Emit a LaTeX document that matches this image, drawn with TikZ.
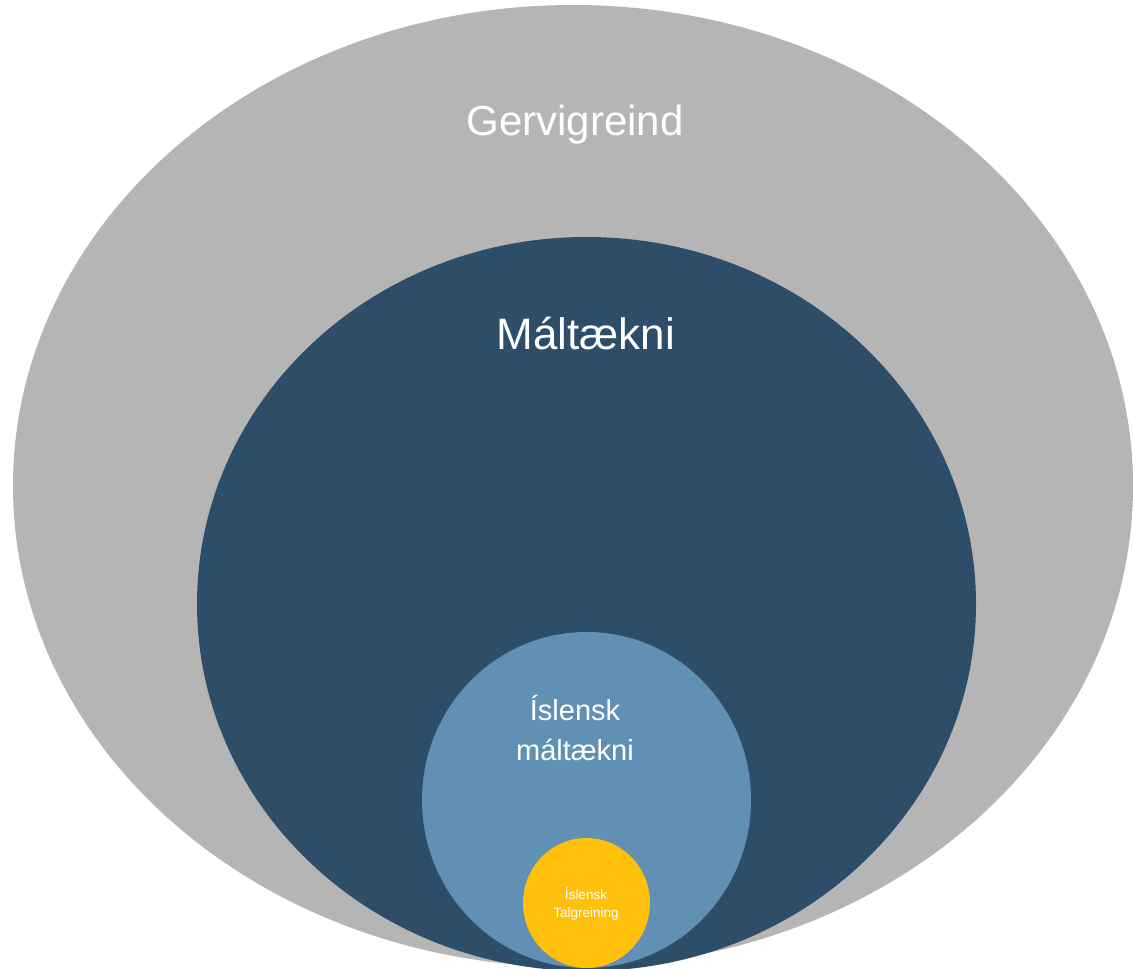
\documentclass[tikz,border=0pt]{standalone}
\usepackage{fontspec}
\setmainfont{Liberation Sans}
\definecolor{aigray}{HTML}{B5B5B5}
\definecolor{nlpblue}{HTML}{2E4D68}
\definecolor{iceblue}{HTML}{6190B5}
\definecolor{asryellow}{HTML}{FEC00A}
\tikzset{
  lbl/.style={text=white, align=center, inner sep=0pt, anchor=base},
}
\begin{document}
\begin{tikzpicture}[x=1pt,y=-1pt]
\useasboundingbox (0,0) rectangle (1133,969);
\clip (0,0) rectangle (1133,969);
\fill[white] (0,0) rectangle (1133,969);
\fill[aigray] (573,486) ellipse [x radius=560, y radius=481];
\fill[nlpblue] (586.5,604) ellipse [x radius=389.5, y radius=367];
\fill[iceblue] (586.5,800) ellipse [x radius=164.5, y radius=168];
\fill[asryellow] (586.5,903) ellipse [x radius=63.5, y radius=65];
\node[lbl, font=\fontsize{42}{50}\selectfont] (ai) at (575,135) {Gervigreind};
\node[lbl, font=\fontsize{44}{50}\selectfont] (nlp) at (586,349) {Máltækni};
\node[lbl, font=\fontsize{29}{40}\selectfont] (ice1) at (575,720) {Íslensk};
\node[lbl, font=\fontsize{29}{40}\selectfont] (ice2) at (575,760) {máltækni};
\node[lbl, font=\fontsize{13.5}{18}\selectfont] (asr1) at (586,899) {Íslensk};
\node[lbl, font=\fontsize{13.5}{18}\selectfont] (asr2) at (586,917) {Talgreining};
\end{tikzpicture}
\end{document}
